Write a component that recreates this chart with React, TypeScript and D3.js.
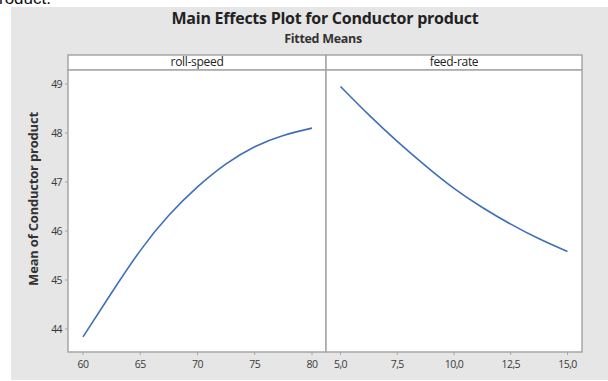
import React from "react";
import * as d3 from "d3";

const rollSpeed = [60, 62.5, 65, 67.5, 70, 72.5, 75, 77.5, 80];
const rollMeans = [43.84, 44.74, 45.6, 46.32, 46.9, 47.37, 47.72, 47.95, 48.1];
const feedRate = [5, 6.25, 7.5, 8.75, 10, 11.25, 12.5, 13.75, 15];
const feedMeans = [48.95, 48.37, 47.83, 47.33, 46.87, 46.48, 46.14, 45.84, 45.58];
const rollTicks = [60, 65, 70, 75, 80];
const feedTicks = [5, 7.5, 10, 12.5, 15];
const yTicks = [44, 45, 46, 47, 48, 49];
const panelNames = ["roll-speed", "feed-rate"];

const W = 608;
const H = 381;
const FONT = "'Open Sans', 'Noto Sans', sans-serif";
const LINE = "#3f6fb8";
const BORDER = "#a6a6a6";
const TXT = "#3a3a3a";

export default function App() {
  const top = 70;
  const bottom = 352;
  const stripTop = 55;
  const y = d3.scaleLinear().domain([44, 49]).range([329, 84]);
  const panels = [
    { name: panelNames[0], x0: 68, x1: 326, sx: d3.scaleLinear().domain([60, 80]).range([83, 312]), xs: rollSpeed, ys: rollMeans, ticks: rollTicks, fmt: (v: number) => String(v) },
    { name: panelNames[1], x0: 326, x1: 582, sx: d3.scaleLinear().domain([5, 15]).range([340.5, 567.5]), xs: feedRate, ys: feedMeans, ticks: feedTicks, fmt: (v: number) => v.toFixed(1).replace(".", ",") },
  ];

  return (
    <svg width={W} height={H} style={{ position: "absolute", left: 0, top: 0 }} fontFamily={FONT}>
      <rect x={0} y={0} width={W} height={H} fill="#ffffff" />
      <text x={-1} y={4} fontSize={17} fill="#111" fontFamily="'Liberation Sans', sans-serif">roduct.</text>
      <rect x={11} y={7} width={W - 11} height={373} fill="#e6e6e6" />
      <text x={325} y={24} textAnchor="middle" fontSize={16} fontWeight="bold" fill="#222" letterSpacing={-0.25}>
        Main Effects Plot for Conductor product
      </text>
      <text x={323} y={43} textAnchor="middle" fontSize={12.5} fontWeight="bold" fill="#333" letterSpacing={-0.3}>
        Fitted Means
      </text>
      <text
        transform={`translate(38,${(top + bottom) / 2 - 12}) rotate(-90)`}
        textAnchor="middle"
        fontSize={13}
        fontWeight="bold"
        fill="#333"
        letterSpacing={-0.2}
      >
        Mean of Conductor product
      </text>
      {panels.map((p, i) => {
        const line = d3
          .line<number>()
          .x((_, k) => p.sx(p.xs[k]))
          .y((d) => y(d))
          .curve(d3.curveNatural);
        return (
          <g key={p.name}>
            <rect x={p.x0} y={stripTop} width={p.x1 - p.x0} height={top - stripTop} fill="#fff" stroke={BORDER} strokeWidth={1.5} />
            <text x={(p.x0 + p.x1) / 2} y={66} textAnchor="middle" fontSize={12} fill="#222" letterSpacing={-0.3}>
              {p.name}
            </text>
            <rect x={p.x0} y={top} width={p.x1 - p.x0} height={bottom - top} fill="#fff" stroke={BORDER} strokeWidth={1.5} />
            <path d={line(p.ys) || ""} fill="none" stroke={LINE} strokeWidth={1.6} />
            {p.ticks.map((t) => (
              <g key={t}>
                <line x1={p.sx(t)} x2={p.sx(t)} y1={bottom} y2={bottom + 3} stroke={BORDER} />
                <text x={p.sx(t)} y={368} textAnchor="middle" fontSize={10.5} fill={TXT} letterSpacing={-0.6}>
                  {p.fmt(t)}
                </text>
              </g>
            ))}
            {i === 0 &&
              yTicks.map((t) => (
                <g key={t}>
                  <line x1={p.x0 - 3} x2={p.x0} y1={y(t)} y2={y(t)} stroke={BORDER} />
                  <text x={p.x0 - 6} y={y(t) + 3.5} textAnchor="end" fontSize={10.5} fill={TXT} letterSpacing={-0.6}>
                    {t}
                  </text>
                </g>
              ))}
          </g>
        );
      })}
    </svg>
  );
}
